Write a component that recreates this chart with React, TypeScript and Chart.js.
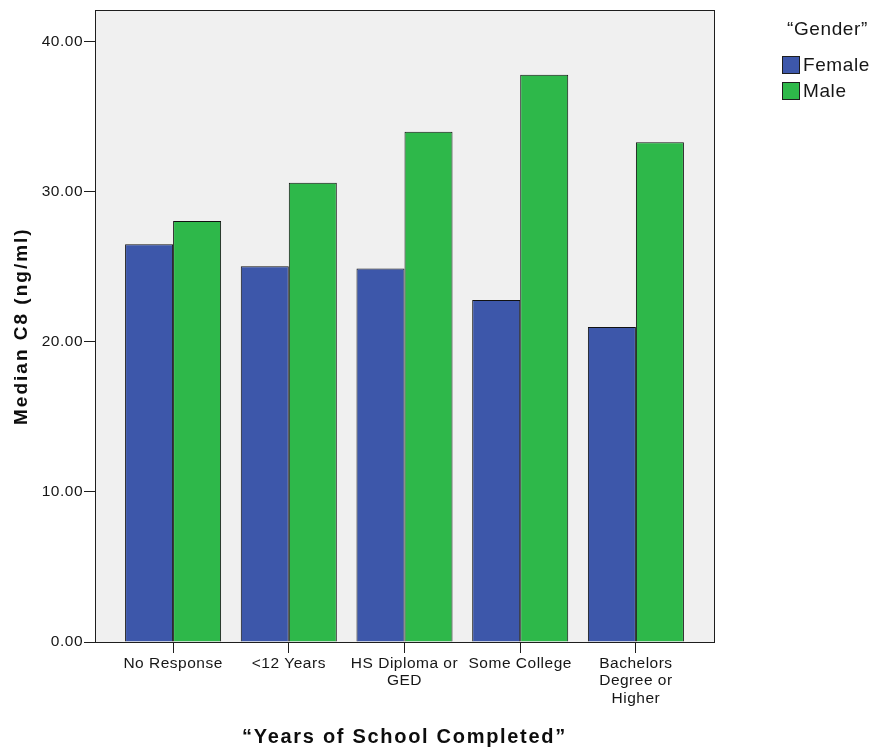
import React, { useEffect, useRef } from 'react';
import { Chart, registerables } from 'chart.js';

Chart.register(...registerables);

// ---- data ----
const categories: (string | string[])[] = [
  'No Response',
  '<12 Years',
  ['HS Diploma or', 'GED'],
  'Some College',
  ['Bachelors', 'Degree or', 'Higher'],
];
const seriesNames = ['Female', 'Male'];
const femaleValues = [26.5, 25.05, 24.9, 22.8, 21.0];
const maleValues = [28.05, 30.6, 34.0, 37.8, 33.3];
const yTickValues = [0, 10, 20, 30, 40];
const yMax = 42.1;
const legendTitle = '\u201CGender\u201D';
const xTitle = '\u201CYears of School Completed\u201D';
const yTitle = 'Median C8 (ng/ml)';

// ---- styles ----
const FONT = "'Liberation Sans', Arial, Helvetica, sans-serif";
const seriesColors = ['#3d57aa', '#2eb84a'];
const TEXT = '#161616';
const LINE = '#1e1e1e';
const titleSpacing: Record<string, string> = { x: '1.7px', y: '2px' };

const framePlugin = {
  id: 'frameAndLegend',
  beforeDraw(chart: any) {
    const ctx = chart.ctx;
    ctx.letterSpacing = '0.5px';
    for (const id of Object.keys(chart.scales)) {
      const s: any = chart.scales[id];
      if (!s.__wrappedTitle) {
        const orig = s.drawTitle;
        s.drawTitle = function () {
          const c = this.ctx;
          const prev = c.letterSpacing;
          c.letterSpacing = titleSpacing[this.id] || '0px';
          orig.call(this);
          c.letterSpacing = prev;
        };
        s.__wrappedTitle = true;
      }
    }
    const a = chart.chartArea;
    ctx.save();
    ctx.fillStyle = '#f0f0f0';
    ctx.fillRect(a.left, a.top, a.right - a.left, a.bottom - a.top);
    ctx.restore();
  },
  afterDatasetsDraw(chart: any) {
    const ctx = chart.ctx;
    const a = chart.chartArea;
    ctx.save();
    ctx.strokeStyle = LINE;
    ctx.lineWidth = 1;
    ctx.strokeRect(
      Math.round(a.left) + 0.5,
      Math.round(a.top) + 0.5,
      Math.round(a.right) - Math.round(a.left),
      Math.round(a.bottom) - Math.round(a.top)
    );
    ctx.restore();
  },
  afterDraw(chart: any) {
    const ctx = chart.ctx;
    ctx.save();
    ctx.letterSpacing = '0.6px';
    ctx.fillStyle = TEXT;
    ctx.textBaseline = 'middle';
    ctx.textAlign = 'left';
    ctx.font = `19px ${FONT}`;
    ctx.fillText(legendTitle, 787, 30);
    chart.data.datasets.forEach((ds: any, i: number) => {
      const y = 56 + i * 26;
      ctx.fillStyle = ds.backgroundColor;
      ctx.fillRect(782, y, 18, 18);
      ctx.strokeStyle = LINE;
      ctx.lineWidth = 1;
      ctx.strokeRect(782.5, y + 0.5, 17, 17);
      ctx.fillStyle = TEXT;
      ctx.fillText(ds.label, 803, y + 9.5);
    });
    ctx.restore();
    ctx.letterSpacing = '0px';
  },
};

export default function App() {
  const canvasRef = useRef<HTMLCanvasElement | null>(null);

  useEffect(() => {
    document.body.style.margin = '0';
    const canvas = canvasRef.current;
    if (!canvas) return;
    const seriesValues = [femaleValues, maleValues];
    const chart = new Chart(canvas, {
      type: 'bar',
      data: {
        datasets: seriesNames.map((name, si) => ({
          label: name,
          data: seriesValues[si].map((v, i) => ({ x: i, y: v })),
          backgroundColor: seriesColors[si],
          borderColor: '#111111',
          borderWidth: 1,
          categoryPercentage: 0.83,
          barPercentage: 1,
        })),
      },
      options: {
        animation: false,
        responsive: true,
        maintainAspectRatio: false,
        layout: { padding: { top: 8, right: 164, left: 0, bottom: 0 } },
        plugins: {
          legend: { display: false },
          tooltip: { enabled: false },
        },
        scales: {
          x: {
            type: 'linear',
            offset: false,
            min: -0.675,
            max: 4.675,
            afterBuildTicks: (s: any) => {
              s.ticks = categories.map((_, i) => ({ value: i }));
            },
            afterFit: (s: any) => {
              s.height = 110;
            },
            ticks: {
              callback: (v: any) => categories[Number(v)] as any,
              font: { family: FONT, size: 15.5, lineHeight: 1.12 },
              color: TEXT,
              padding: 2,
              maxRotation: 0,
              autoSkip: false,
            },
            grid: {
              offset: false,
              drawOnChartArea: false,
              drawTicks: true,
              tickLength: 11,
              color: LINE,
            },
            border: { display: true, color: LINE },
            title: {
              display: true,
              text: xTitle,
              font: { family: FONT, size: 20, weight: 'bold' },
              color: '#0d0d0d',
              padding: { top: 0, bottom: 3 },
            },
          },
          y: {
            type: 'linear',
            min: 0,
            max: yMax,
            afterBuildTicks: (s: any) => {
              s.ticks = yTickValues.map((v) => ({ value: v }));
            },
            afterFit: (s: any) => {
              s.width = 95;
            },
            ticks: {
              callback: (v: any) => Number(v).toFixed(2),
              font: { family: FONT, size: 15.5 },
              color: TEXT,
              padding: 1,
            },
            grid: {
              drawOnChartArea: false,
              drawTicks: true,
              tickLength: 11,
              color: LINE,
            },
            border: { display: true, color: LINE },
            title: {
              display: true,
              text: yTitle,
              font: { family: FONT, size: 19, weight: 'bold' },
              color: '#0d0d0d',
              padding: { top: 10, bottom: 0 },
            },
          },
        },
      } as any,
      plugins: [framePlugin as any],
    });
    return () => chart.destroy();
  }, []);

  return (
    <div style={{ position: 'relative', width: 878, height: 752 }}>
      <canvas ref={canvasRef} />
    </div>
  );
}
